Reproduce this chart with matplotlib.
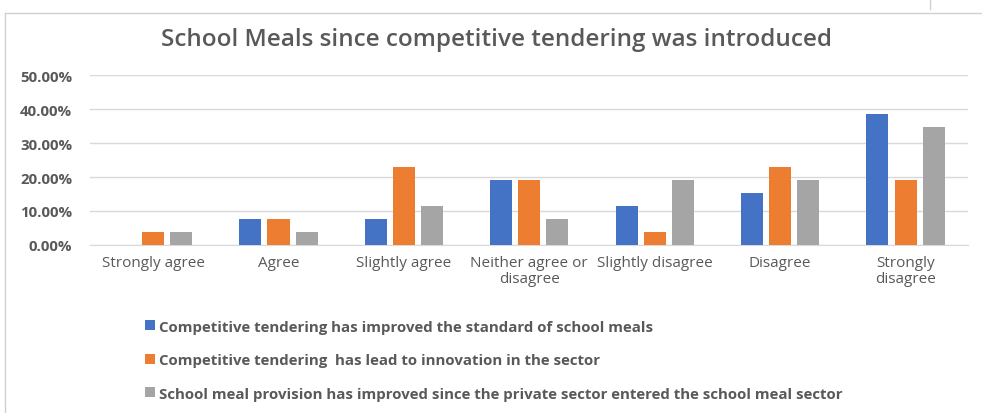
import numpy as np
import matplotlib.pyplot as plt
from matplotlib.lines import Line2D
from matplotlib.ticker import FuncFormatter

plt.rcParams['font.family'] = ['Open Sans', 'DejaVu Sans']

############### DATA ###############
categories = ['Strongly agree', 'Agree', 'Slightly agree', 'Neither agree or\ndisagree',
              'Slightly disagree', 'Disagree', 'Strongly\ndisagree']
improved_standard = [0.0, 7.69, 7.69, 19.23, 11.54, 15.38, 38.46]
lead_innovation = [3.85, 7.69, 23.08, 19.23, 3.85, 23.08, 19.23]
private_sector = [3.85, 3.85, 11.54, 7.69, 19.23, 19.23, 34.62]
series_names = ['Competitive tendering has improved the standard of school meals',
                'Competitive tendering  has lead to innovation in the sector',
                'School meal provision has improved since the private sector entered the school meal sector']
colors = ['#4472C4', '#ED7D31', '#A5A5A5']
txt = '#595959'

############### PLOT ###############
fig = plt.figure(figsize=(9.82, 4.14), dpi=100)
ax = fig.add_axes([0.092, 0.406, 0.894, 0.41])

x = np.arange(len(categories))
w = 0.176
step = 0.224
for i, vals in enumerate([improved_standard, lead_innovation, private_sector]):
    ax.bar(x + (i - 1) * step, vals, width=w, color=colors[i], label=series_names[i], zorder=3)

ax.set_xlim(-0.5, len(categories) - 0.5)
ax.set_ylim(0, 50)
ax.set_yticks(np.arange(0, 51, 10))
ax.yaxis.set_major_formatter(FuncFormatter(lambda v, p: '{:.2f}%'.format(v)))
ax.grid(axis='y', color='#d9d9d9', linewidth=1, zorder=0)
for s in ax.spines.values():
    s.set_visible(False)
ax.spines['bottom'].set_visible(True)
ax.spines['bottom'].set_color('#d9d9d9')
ax.tick_params(axis='both', length=0, colors=txt)
ax.tick_params(axis='y', pad=13)
ax.tick_params(axis='x', pad=7)
ax.set_xticks(x)
ax.set_xticklabels(categories, fontsize=11, color=txt, linespacing=1.15)
for lab in ax.get_yticklabels():
    lab.set_fontweight('bold')
    lab.set_fontsize(10.8)

fig.text(0.506, 0.903, 'School Meals since competitive tendering was introduced',
         ha='center', va='center', fontsize=17.5, color=txt, fontweight='semibold')

leg = fig.legend(loc='upper left', bbox_to_anchor=(0.142, 0.24), frameon=False,
                 fontsize=10.8, handlelength=0.65, handleheight=0.65, handletextpad=0.25,
                 labelspacing=1.3, borderaxespad=0)
for t in leg.get_texts():
    t.set_color(txt)
    t.set_fontweight('bold')

# chart frame lines
fig.add_artist(Line2D([0.005, 0.005], [0.0, 0.966], color='#d0d0d0', linewidth=1))
fig.add_artist(Line2D([0.005, 1.0], [0.966, 0.966], color='#d0d0d0', linewidth=1))
fig.add_artist(Line2D([0.947, 0.947], [0.976, 1.0], color='#d0d0d0', linewidth=1))

plt.savefig('out.png')
